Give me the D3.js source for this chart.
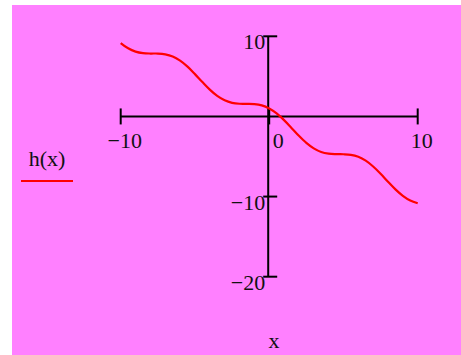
<!DOCTYPE html>
<html>
<head>
<meta charset="utf-8">
<script src="https://cdn.jsdelivr.net/npm/d3@7"></script>
<style>
body { margin: 0; background: #fff; }
text { font-family: "Liberation Serif", "Times New Roman", serif; fill: #111; }
</style>
</head>
<body>
<div class="container"></div>
<script>
// values
var xs = [-10, -9.5, -9, -8.5, -8, -7.5, -7, -6.5, -6, -5.5, -5, -4.5, -4, -3.5, -3, -2.5, -2, -1.5, -1, -0.5,
	0, 0.5, 1, 1.5, 2, 2.5, 3, 3.5, 4, 4.5, 5, 5.5, 6, 6.5, 7, 7.5, 8, 8.5, 9, 9.5, 10];
var hs = [9.16, 8.5, 8.09, 7.9, 7.85, 7.85, 7.75, 7.48, 6.96, 6.21, 5.28, 4.29, 3.35, 2.56, 2.01, 1.7, 1.58, 1.57, 1.54, 1.38,
	1.0, 0.38, -0.46, -1.43, -2.42, -3.3, -3.99, -4.44, -4.65, -4.71, -4.72, -4.79, -5.04, -5.52, -6.25, -7.15, -8.15, -9.1, -9.91, -10.5, -10.84];
var xTicks = [-10, 0, 10];
var yTicks = [10, -10, -20];
var legendLabel = "h(x)";
var xLabel = "x";

var width = 461, height = 355;
var svg = d3.select(".container").append("svg")
	.attr("width", width)
	.attr("height", height);

svg.append("rect")
	.attr("x", 12).attr("y", 5)
	.attr("width", width - 12).attr("height", height - 5)
	.style("fill", "#ff80ff");

var x = d3.scaleLinear().domain([-10, 10]).range([120.7, 417.7]);
var y = d3.scaleLinear().domain([-20, 10]).range([276.7, 36.3]);

var fmt = function(v) { return v < 0 ? "\u2212" + Math.abs(v) : "" + v; };

// horizontal axis through y = 0
svg.append("line")
	.attr("x1", x(-10)).attr("x2", x(10))
	.attr("y1", y(0)).attr("y2", y(0))
	.style("stroke", "#000").style("stroke-width", 2);
svg.selectAll(".xtick").data(xTicks).enter().append("line")
	.attr("x1", function(d) { return x(d); })
	.attr("x2", function(d) { return x(d); })
	.attr("y1", y(0) - 8).attr("y2", y(0) + 8)
	.style("stroke", "#000").style("stroke-width", 2);
svg.selectAll(".xlab").data(xTicks).enter().append("text")
	.attr("x", function(d) { return x(d) + (d === 0 ? 9 : 4); })
	.attr("y", y(0) + 32)
	.attr("text-anchor", "middle")
	.attr("font-size", 22)
	.text(fmt);

// vertical axis through x = 0
svg.append("line")
	.attr("x1", x(0) - 1).attr("x2", x(0) - 1)
	.attr("y1", y(10)).attr("y2", y(-20))
	.style("stroke", "#000").style("stroke-width", 2);
svg.selectAll(".ytick").data(yTicks).enter().append("line")
	.attr("x1", x(0) - 6).attr("x2", x(0) + 8)
	.attr("y1", function(d) { return y(d); })
	.attr("y2", function(d) { return y(d); })
	.style("stroke", "#000").style("stroke-width", 2);
svg.selectAll(".ylab").data(yTicks).enter().append("text")
	.attr("x", x(0) - 4)
	.attr("y", function(d) { return y(d) + 13; })
	.attr("text-anchor", "end")
	.attr("font-size", 22)
	.text(fmt);

// curve
var line = d3.line()
	.x(function(d) { return x(d[0]); })
	.y(function(d) { return y(d[1]); })
	.curve(d3.curveCatmullRom);
svg.append("path")
	.datum(d3.zip(xs, hs))
	.attr("d", line)
	.style("fill", "none")
	.style("stroke", "#ff0000")
	.style("stroke-width", 2.2);

// legend
svg.append("text")
	.attr("x", 47).attr("y", 166)
	.attr("text-anchor", "middle")
	.attr("font-size", 22)
	.text(legendLabel);
svg.append("line")
	.attr("x1", 21).attr("x2", 73)
	.attr("y1", 181).attr("y2", 181)
	.style("stroke", "#ff0000").style("stroke-width", 2);

svg.append("text")
	.attr("x", 274).attr("y", 348)
	.attr("text-anchor", "middle")
	.attr("font-size", 22)
	.text(xLabel);
</script>
</body>
</html>
